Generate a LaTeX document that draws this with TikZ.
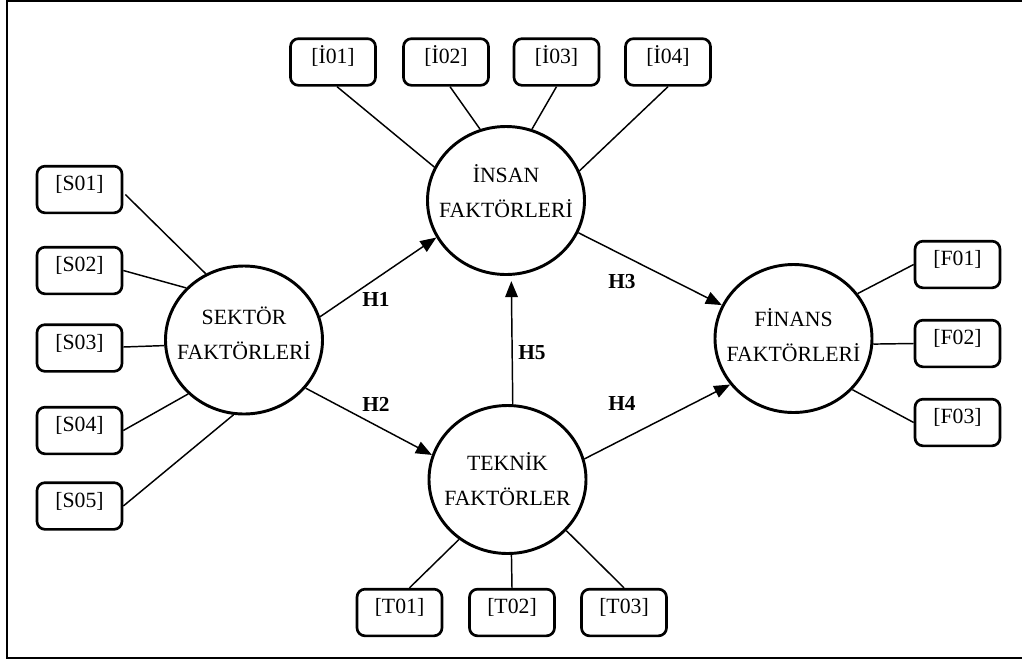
\documentclass[tikz,border=0pt]{standalone}
\usepackage{fontspec}
\setmainfont{Liberation Serif}
\usetikzlibrary{shapes.geometric,arrows.meta,calc}

\tikzset{
  frameline/.style={line width=2pt},
  indbox/.style={draw, rounded corners=6pt, line width=2pt, minimum width=63.75pt,
    minimum height=35pt, inner sep=0pt, text height=10.5pt, text depth=8.5pt,
    font=\fontsize{16.3}{18}\selectfont},
  factor/.style={draw, ellipse, line width=2.2pt, minimum width=117.75pt,
    minimum height=111pt, inner sep=0pt},
  factortext/.style={align=center, inner sep=0pt,
    font=\fontsize{16.3}{26.25}\selectfont},
  link/.style={line width=1.1pt},
  hyp/.style={line width=1.1pt, -{Triangle[length=12pt,width=9.5pt]}},
  hlabel/.style={inner sep=0pt, font=\fontsize{16}{18}\selectfont\bfseries}
}

\begin{document}
\begin{tikzpicture}[x=0.75pt, y=-0.75pt]
\useasboundingbox (0,0) rectangle (1022,662);
\clip (0,0) rectangle (1022,662);

% outer frame (open on the right)
\coordinate (frTR) at (1022,1);
\coordinate (frTL) at (7,1);
\coordinate (frBL) at (7,658);
\coordinate (frBR) at (1022,658);
\draw[frameline] (frTR) -- (frTL) -- (frBL) -- (frBR);

% latent factors
\node[factor] (sek) at (244,340) {};
\node[factortext] (sekt) at (244,333.5) {SEKTÖR\\FAKTÖRLERİ};
\node[factor] (ins) at (506,200.5) {};
\node[factortext] (inst) at (506,191.5) {İNSAN\\FAKTÖRLERİ};
\node[factor] (tek) at (507.5,479.5) {};
\node[factortext] (tekt) at (507.5,479.5) {TEKNİK\\FAKTÖRLER};
\node[factor] (fin) at (793.5,338.5) {};
\node[factortext] (fint) at (793.5,335.5) {FİNANS\\FAKTÖRLERİ};

% indicators
\node[indbox] (s1) at (79.5,189.5) {[S01]};
\node[indbox] (s2) at (79.5,270.5) {[S02]};
\node[indbox] (s3) at (79.5,348) {[S03]};
\node[indbox] (s4) at (79.5,430.5) {[S04]};
\node[indbox] (s5) at (79.5,506) {[S05]};

\node[indbox] (i1) at (333,62) {[İ01]};
\node[indbox] (i2) at (446,62) {[İ02]};
\node[indbox] (i3) at (556.5,62) {[İ03]};
\node[indbox] (i4) at (668,62) {[İ04]};

\node[indbox] (t1) at (399.5,612.5) {[T01]};
\node[indbox] (t2) at (512,612.5) {[T02]};
\node[indbox] (t3) at (624,612.5) {[T03]};

\node[indbox] (f1) at (957.5,264.5) {[F01]};
\node[indbox] (f2) at (957.5,343.5) {[F02]};
\node[indbox] (f3) at (957.5,422.5) {[F03]};

% indicator links
\draw[link] ($(s1.east)+(2,5)$) -- (sek.120);
\draw[link] (s2.east) -- (sek.138);
\draw[link] ($(s3.east)+(0,-1)$) -- (sek.184);
\draw[link] (s4.east) -- (sek.224.5);
\draw[link] (s5.east) -- (sek.262);

\draw[link] ($(i1.south)+(4,0)$) -- (ins.155.6);
\draw[link] ($(i2.south)+(4,0)$) -- (ins.110.4);
\draw[link] (i3.south) -- (ins.70.5);
\draw[link] (i4.south) -- (ins.22.5);

\draw[link] ($(t1.north)+(10,0)$) -- (tek.231);
\draw[link] (t2.north) -- (tek.273.4);
\draw[link] (t3.north) -- (tek.319);

\draw[link] (f1.west) -- (fin.35.8);
\draw[link] (f2.west) -- (fin.356.8);
\draw[link] (f3.west) -- (fin.319.6);

% hypothesised paths
\draw[hyp] (sek.17.8) -- (ins.208.3);
\draw[hyp] (sek.322.6) -- (tek.162.9);
\draw[hyp] (ins.336.9) -- (fin.155.7);
\draw[hyp] (tek.15) -- (fin.216.5);
\draw[hyp, shorten >=4pt] (tek.86.6) -- (ins.274.3);

\node[hlabel] (h1) at (376,299) {H1};
\node[hlabel] (h2) at (376,404) {H2};
\node[hlabel] (h3) at (622,282) {H3};
\node[hlabel] (h4) at (622,403) {H4};
\node[hlabel] (h5) at (532,353) {H5};
\end{tikzpicture}
\end{document}
